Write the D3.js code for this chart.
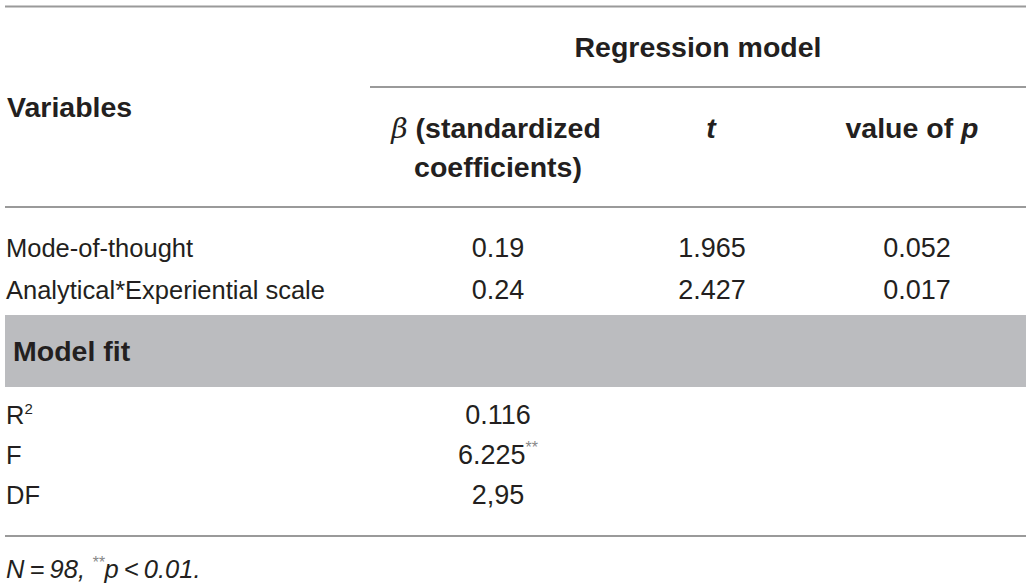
<!DOCTYPE html>
<html>
<head>
<meta charset="utf-8">
<script src="https://cdn.jsdelivr.net/npm/d3@7"></script>
<style>
  html, body { margin: 0; padding: 0; background: #fff; }
  svg { display: block; font-family: "Liberation Sans", Arial, Helvetica, sans-serif; }
</style>
</head>
<body>
<div id="container"></div>
<script>
// table content
const groupTitle = "Regression model";
const headers = ["Variables", "β (standardized coefficients)", "t", "value of p"];
const variables = ["Mode-of-thought", "Analytical*Experiential scale"];
const betaValues = ["0.19", "0.24"];
const tValues = ["1.965", "2.427"];
const pValues = ["0.052", "0.017"];
const fitTitle = "Model fit";
const fitLabels = ["R", "F", "DF"];
const fitLabelSup = ["2", "", ""];
const fitValues = ["0.116", "6.225", "2,95"];
const fitValueSup = ["", "**", ""];

const w = 1036;
const h = 587;
const left = 5, right = 1026;
const lineColor = "#9a9a9a";
const textColor = "#231f20";
const headSize = 28.5;
const labelSize = 25.5;
const numSize = 27;

const svg = d3.select("#container")
  .append("svg")
  .attr("width", w)
  .attr("height", h);

// column centres
const colX = d3.scaleOrdinal()
  .domain(["beta", "t", "p"])
  .range([498, 711, 912]);

// body rows
const rowY = d3.scaleLinear().domain([0, 1]).range([257, 299]);
const fitY = d3.scaleLinear().domain([0, 1]).range([424, 464]);

const hline = (y, x1, x2) => svg.append("line")
  .attr("x1", x1).attr("x2", x2)
  .attr("y1", y).attr("y2", y)
  .attr("stroke", lineColor)
  .attr("stroke-width", 2);

hline(6.5, left, right);
hline(87, 370, right);
hline(207, left, right);
hline(536, left, right);

// header
const head = svg.append("g")
  .attr("font-weight", "bold")
  .attr("font-size", headSize)
  .attr("fill", textColor);

head.append("text")
  .attr("x", 698).attr("y", 57)
  .attr("text-anchor", "middle")
  .text(groupTitle);

head.append("text")
  .attr("x", 7).attr("y", 117)
  .text(headers[0]);

const betaHead = head.append("text")
  .attr("x", colX("beta") - 2).attr("y", 138)
  .attr("text-anchor", "middle");
betaHead.append("tspan")
  .attr("font-style", "italic")
  .attr("font-weight", "normal")
  .attr("font-family", "'DejaVu Serif', 'Liberation Serif', serif")
  .text("β");
betaHead.append("tspan").text(" (standardized");
head.append("text")
  .attr("x", colX("beta")).attr("y", 177)
  .attr("text-anchor", "middle")
  .text("coefficients)");

head.append("text")
  .attr("x", colX("t")).attr("y", 138)
  .attr("text-anchor", "middle")
  .attr("font-style", "italic")
  .text(headers[2]);

const pHead = head.append("text")
  .attr("x", colX("p")).attr("y", 138)
  .attr("text-anchor", "middle");
pHead.append("tspan").text("value of ");
pHead.append("tspan").attr("font-style", "italic").text("p");

// regression rows
const body = svg.append("g")
  .attr("fill", textColor);

const rows = body.selectAll(".row")
  .data(variables.map((v, i) => ({ v, beta: betaValues[i], t: tValues[i], p: pValues[i] })))
  .enter().append("g")
  .attr("class", "row")
  .attr("transform", (d, i) => `translate(0, ${rowY(i)})`);

rows.append("text").attr("x", 6).attr("font-size", labelSize).text(d => d.v);
const num = rows.append("g").attr("font-size", numSize).attr("text-anchor", "middle");
num.append("text").attr("x", colX("beta")).text(d => d.beta);
num.append("text").attr("x", colX("t") + 1).text(d => d.t);
num.append("text").attr("x", colX("p") + 5).text(d => d.p);

// model fit band
svg.append("rect")
  .attr("x", left).attr("y", 315)
  .attr("width", right - left).attr("height", 72)
  .attr("fill", "#bbbcbf");

svg.append("text")
  .attr("x", 13).attr("y", 361)
  .attr("font-weight", "bold")
  .attr("font-size", headSize)
  .attr("fill", textColor)
  .text(fitTitle);

const fit = body.selectAll(".fit")
  .data(fitLabels.map((l, i) => ({ l, ls: fitLabelSup[i], v: fitValues[i], vs: fitValueSup[i] })))
  .enter().append("g")
  .attr("class", "fit")
  .attr("transform", (d, i) => `translate(0, ${fitY(i)})`);

const lab = fit.append("text").attr("x", 6).attr("font-size", labelSize);
lab.append("tspan").text(d => d.l);
lab.append("tspan").attr("font-size", 15).attr("dy", -10).text(d => d.ls);

// values centred together with their superscript stars
const val = fit.append("text")
  .attr("x", colX("beta"))
  .attr("font-size", numSize)
  .attr("text-anchor", "middle");
val.append("tspan").text(d => d.v);
val.append("tspan").attr("font-size", 16).attr("dy", -11).attr("fill", "#888").text(d => d.vs);

// footnote
const note = svg.append("text")
  .attr("x", 6).attr("y", 578)
  .attr("font-size", labelSize)
  .attr("font-style", "italic")
  .attr("fill", textColor);
note.append("tspan").text("N\u2009=\u200998, ");
note.append("tspan").attr("font-size", 16).attr("dy", -10).attr("fill", "#888").text("**");
note.append("tspan").attr("dy", 10).text("p\u2009<\u20090.01.");
</script>
</body>
</html>
